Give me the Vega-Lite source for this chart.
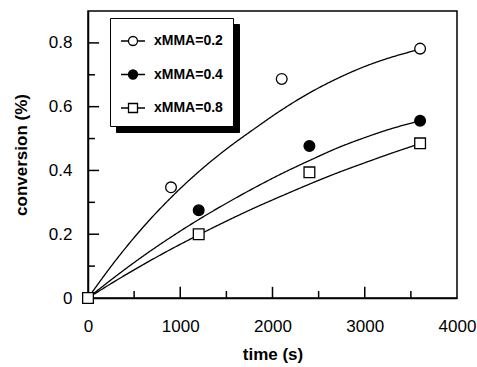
{
  "$schema": "https://vega.github.io/schema/vega-lite/v6.json",
  "width": 369,
  "height": 287,
  "autosize": {"type": "none"},
  "padding": {"left": 88, "top": 11, "right": 20, "bottom": 69},
  "background": "white",
  "config": {
    "view": {"stroke": "black", "strokeWidth": 1.5},
    "font": "Liberation Sans",
    "axis": {
      "domainColor": "black", "domainWidth": 1.5,
      "labelColor": "black", "titleColor": "black",
      "labelFont": "Liberation Sans", "titleFont": "Liberation Sans",
      "labelFontSize": 17, "titleFontSize": 17, "titleFontWeight": "bold",
      "grid": false, "labelFlush": false
    }
  },
  "datasets": {
    "curves": [
      {"series": "xMMA=0.2", "t": 0, "v": 0},
      {"series": "xMMA=0.2", "t": 300, "v": 0.118},
      {"series": "xMMA=0.2", "t": 600, "v": 0.223},
      {"series": "xMMA=0.2", "t": 900, "v": 0.315},
      {"series": "xMMA=0.2", "t": 1200, "v": 0.396},
      {"series": "xMMA=0.2", "t": 1500, "v": 0.467},
      {"series": "xMMA=0.2", "t": 1800, "v": 0.530},
      {"series": "xMMA=0.2", "t": 2100, "v": 0.590},
      {"series": "xMMA=0.2", "t": 2400, "v": 0.643},
      {"series": "xMMA=0.2", "t": 2700, "v": 0.688},
      {"series": "xMMA=0.2", "t": 3000, "v": 0.726},
      {"series": "xMMA=0.2", "t": 3300, "v": 0.756},
      {"series": "xMMA=0.2", "t": 3600, "v": 0.780},
      {"series": "xMMA=0.4", "t": 0, "v": 0},
      {"series": "xMMA=0.4", "t": 300, "v": 0.068},
      {"series": "xMMA=0.4", "t": 600, "v": 0.132},
      {"series": "xMMA=0.4", "t": 900, "v": 0.191},
      {"series": "xMMA=0.4", "t": 1200, "v": 0.246},
      {"series": "xMMA=0.4", "t": 1500, "v": 0.297},
      {"series": "xMMA=0.4", "t": 1800, "v": 0.345},
      {"series": "xMMA=0.4", "t": 2100, "v": 0.390},
      {"series": "xMMA=0.4", "t": 2400, "v": 0.431},
      {"series": "xMMA=0.4", "t": 2700, "v": 0.470},
      {"series": "xMMA=0.4", "t": 3000, "v": 0.503},
      {"series": "xMMA=0.4", "t": 3300, "v": 0.532},
      {"series": "xMMA=0.4", "t": 3600, "v": 0.555},
      {"series": "xMMA=0.8", "t": 0, "v": 0},
      {"series": "xMMA=0.8", "t": 300, "v": 0.054},
      {"series": "xMMA=0.8", "t": 600, "v": 0.105},
      {"series": "xMMA=0.8", "t": 900, "v": 0.153},
      {"series": "xMMA=0.8", "t": 1200, "v": 0.198},
      {"series": "xMMA=0.8", "t": 1500, "v": 0.241},
      {"series": "xMMA=0.8", "t": 1800, "v": 0.282},
      {"series": "xMMA=0.8", "t": 2100, "v": 0.320},
      {"series": "xMMA=0.8", "t": 2400, "v": 0.357},
      {"series": "xMMA=0.8", "t": 2700, "v": 0.392},
      {"series": "xMMA=0.8", "t": 3000, "v": 0.424},
      {"series": "xMMA=0.8", "t": 3300, "v": 0.455},
      {"series": "xMMA=0.8", "t": 3600, "v": 0.484}
    ],
    "pts": [
      {"series": "xMMA=0.2", "t": 0, "v": 0},
      {"series": "xMMA=0.2", "t": 900, "v": 0.347},
      {"series": "xMMA=0.2", "t": 2100, "v": 0.687},
      {"series": "xMMA=0.2", "t": 3600, "v": 0.782},
      {"series": "xMMA=0.4", "t": 0, "v": 0},
      {"series": "xMMA=0.4", "t": 1200, "v": 0.275},
      {"series": "xMMA=0.4", "t": 2400, "v": 0.477},
      {"series": "xMMA=0.4", "t": 3600, "v": 0.556},
      {"series": "xMMA=0.8", "t": 0, "v": 0},
      {"series": "xMMA=0.8", "t": 1200, "v": 0.2},
      {"series": "xMMA=0.8", "t": 2400, "v": 0.394},
      {"series": "xMMA=0.8", "t": 3600, "v": 0.485}
    ],
    "xmajor": [{"t": 1000}, {"t": 2000}, {"t": 3000}],
    "xminor": [{"t": 500}, {"t": 1500}, {"t": 2500}, {"t": 3500}],
    "ymajor": [{"v": 0.2}, {"v": 0.4}, {"v": 0.6}, {"v": 0.8}],
    "yminor": [{"v": 0.1}, {"v": 0.3}, {"v": 0.5}, {"v": 0.7}]
  },
  "resolve": {
    "scale": {"shape": "independent", "fill": "independent", "stroke": "independent"}
  },
  "layer": [
    {
      "data": {"name": "curves"},
      "mark": {"type": "line", "color": "black", "strokeWidth": 1.3, "interpolate": "monotone"},
      "encoding": {
        "x": {
          "field": "t", "type": "quantitative",
          "scale": {"domain": [0, 4000], "nice": false},
          "axis": {
            "orient": "bottom",
            "title": "time (s)",
            "values": [0, 1000, 2000, 3000, 4000],
            "format": "d",
            "ticks": false,
            "labelPadding": 20,
            "titlePadding": 12
          }
        },
        "y": {
          "field": "v", "type": "quantitative",
          "scale": {"domain": [0, 0.9], "nice": false},
          "axis": {
            "orient": "left",
            "title": "conversion (%)",
            "values": [0, 0.2, 0.4, 0.6, 0.8],
            "labelExpr": "datum.value === 0 ? '0' : format(datum.value, '.1f')",
            "ticks": false,
            "labelPadding": 16,
            "titlePadding": 18
          }
        },
        "strokeDash": {
          "field": "series", "type": "nominal",
          "scale": {"range": [[1, 0], [1, 0], [1, 0]]},
          "legend": {
            "orient": "none", "legendX": 28, "legendY": 13, "title": null,
            "padding": 10, "symbolSize": 576, "labelOffset": 77, "rowPadding": 12.5,
            "labelExpr": "''",
            "symbolType": "M-1,-0.375L1,-0.375L1,0.375L-1,0.375Z",
            "labelFont": "Liberation Sans", "labelFontSize": 14, "labelFontWeight": "bold",
            "labelColor": "black", "strokeColor": "black", "fillColor": "black",
            "symbolStrokeColor": "black", "symbolFillColor": "black", "zindex": 1
          }
        }
      }
    },
    {
      "data": {"name": "xmajor"},
      "mark": {"type": "rule", "color": "black", "strokeWidth": 1.5},
      "encoding": {
        "x": {"field": "t", "type": "quantitative"},
        "y": {"datum": 0, "type": "quantitative"},
        "y2": {"datum": 0.035}
      }
    },
    {
      "data": {"name": "xminor"},
      "mark": {"type": "rule", "color": "black", "strokeWidth": 1.5},
      "encoding": {
        "x": {"field": "t", "type": "quantitative"},
        "y": {"datum": 0, "type": "quantitative"},
        "y2": {"datum": 0.022}
      }
    },
    {
      "data": {"name": "ymajor"},
      "mark": {"type": "rule", "color": "black", "strokeWidth": 1.5},
      "encoding": {
        "y": {"field": "v", "type": "quantitative"},
        "x": {"datum": 0, "type": "quantitative"},
        "x2": {"datum": 120}
      }
    },
    {
      "data": {"name": "yminor"},
      "mark": {"type": "rule", "color": "black", "strokeWidth": 1.5},
      "encoding": {
        "y": {"field": "v", "type": "quantitative"},
        "x": {"datum": 0, "type": "quantitative"},
        "x2": {"datum": 76}
      }
    },
    {
      "data": {"name": "pts"},
      "mark": {"type": "point", "stroke": "black", "strokeWidth": 1.3, "opacity": 1, "size": 115},
      "encoding": {
        "x": {"field": "t", "type": "quantitative"},
        "y": {"field": "v", "type": "quantitative"},
        "shape": {
          "field": "series", "type": "nominal",
          "scale": {"domain": ["xMMA=0.2", "xMMA=0.4", "xMMA=0.8"], "range": ["circle", "circle", "square"]},
          "legend": null
        },
        "fill": {
          "field": "series", "type": "nominal",
          "scale": {"domain": ["xMMA=0.2", "xMMA=0.4", "xMMA=0.8"], "range": ["white", "black", "white"]},
          "legend": null
        }
      }
    },
    {
      "data": {"name": "pts"},
      "mark": {"type": "point", "strokeWidth": 1.3, "opacity": 0, "size": 115},
      "encoding": {
        "x": {"field": "t", "type": "quantitative"},
        "y": {"field": "v", "type": "quantitative"},
        "shape": {
          "field": "series", "type": "nominal",
          "scale": {
            "domain": ["xMMA=0.2", "xMMA=0.4", "xMMA=0.8"],
            "range": [
              "M-1,0L-0.375,0M0.375,0L1,0M-0.375,0A0.375,0.375,0,1,0,0.375,0A0.375,0.375,0,1,0,-0.375,0Z",
              "M-1,0L-0.375,0M0.375,0L1,0M-0.375,0A0.375,0.375,0,1,0,0.375,0A0.375,0.375,0,1,0,-0.375,0Z",
              "M-1,0L-0.375,0M0.375,0L1,0M-0.375,-0.375L0.375,-0.375L0.375,0.375L-0.375,0.375Z"
            ]
          },
          "legend": {
            "orient": "none", "legendX": 22, "legendY": 7, "title": null,
            "padding": 10, "symbolSize": 576, "labelOffset": 8, "rowPadding": 12.5,
            "labelFont": "Liberation Sans", "labelFontSize": 14, "labelFontWeight": "bold",
            "labelColor": "black", "strokeColor": "black", "fillColor": "white",
            "symbolStrokeWidth": 1.3, "symbolOpacity": 1, "zindex": 2
          }
        },
        "fill": {
          "field": "series", "type": "nominal",
          "scale": {"domain": ["xMMA=0.2", "xMMA=0.4", "xMMA=0.8"], "range": ["white", "black", "white"]},
          "legend": {
            "orient": "none", "legendX": 22, "legendY": 7, "title": null,
            "padding": 10, "symbolSize": 576, "labelOffset": 8, "rowPadding": 12.5,
            "labelFont": "Liberation Sans", "labelFontSize": 14, "labelFontWeight": "bold",
            "labelColor": "black", "strokeColor": "black", "fillColor": "white",
            "symbolStrokeWidth": 1.3, "symbolOpacity": 1, "zindex": 2
          }
        },
        "stroke": {
          "field": "series", "type": "nominal",
          "scale": {"domain": ["xMMA=0.2", "xMMA=0.4", "xMMA=0.8"], "range": ["black", "black", "black"]},
          "legend": {
            "orient": "none", "legendX": 22, "legendY": 7, "title": null,
            "padding": 10, "symbolSize": 576, "labelOffset": 8, "rowPadding": 12.5,
            "labelFont": "Liberation Sans", "labelFontSize": 14, "labelFontWeight": "bold",
            "labelColor": "black", "strokeColor": "black", "fillColor": "white",
            "symbolStrokeWidth": 1.3, "symbolOpacity": 1, "zindex": 2
          }
        }
      }
    }
  ]
}
